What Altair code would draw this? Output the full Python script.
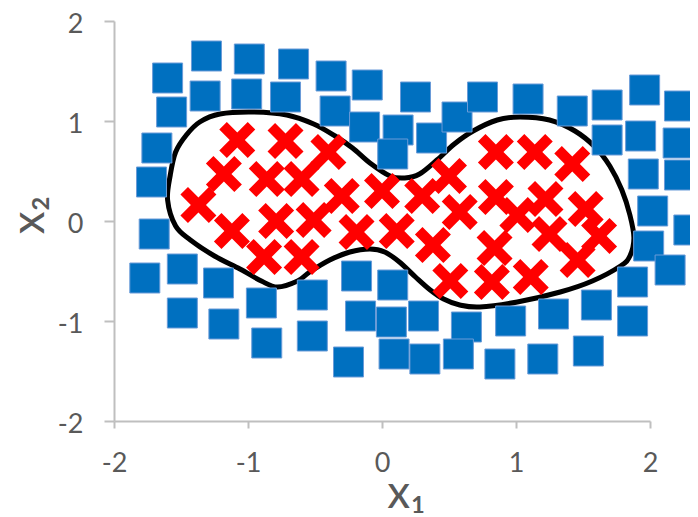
import altair as alt
import pandas as pd

# Blue squares (class outside the boundary)
sq_x = [-1.31, -0.99, -0.66, -0.38, -0.11, -1.60, -1.32, -1.01, -0.72, -1.57,
        -0.35, -0.13, 0.25, 0.12, 0.37, 0.56, 0.75, 1.09, 1.42, 1.68,
        1.96, 2.22, 1.68, 1.93, 2.21, 1.95, 2.22, 2.02, 2.29, 1.99,
        2.15, 1.87, 1.87, 1.60, 1.28, 0.96, 0.63, 1.54, 1.20, 0.88,
        0.57, 0.32, 0.09, -0.25, 0.07, -0.16, -0.19, 0.08, -0.52, -0.52,
        -0.90, -0.86, -1.18, -1.49, -1.77, -1.49, -1.70, -1.72, -1.68, 0.08,
        0.31, -1.22]
sq_y = [1.65, 1.62, 1.57, 1.45, 1.36, 1.43, 1.25, 1.27, 1.24, 1.09,
        1.10, 0.94, 1.24, 0.91, 0.83, 1.04, 1.24, 1.22, 1.10, 1.16,
        1.31, 1.15, 0.81, 0.85, 0.78, 0.47, 0.46, 0.10, -0.09, -0.25,
        -0.49, -0.61, -1.00, -0.84, -0.93, -1.00, -1.06, -1.30, -1.38, -1.43,
        -1.33, -1.38, -1.33, -1.41, -1.01, -0.95, -0.55, -0.64, -0.74, -1.15,
        -0.82, -1.22, -1.03, -0.48, -0.57, -0.92, -0.13, 0.39, 0.73, 0.67,
        -0.95, -0.62]

# Red crosses (class inside the boundary)
cr_x = [-1.08, -0.72, -0.40, -1.18, -0.86, -0.60, -1.37, -0.30, 0.00, 0.30,
        0.50, 0.85, 1.14, 1.42, 0.85, 1.22, 1.52, 0.58, 1.01, 1.25,
        1.62, -0.79, -0.51, -0.19, 0.11, 0.38, -1.12, -0.88, -0.60, 0.84,
        1.46, 1.11, 0.82, 0.51]
cr_y = [0.81, 0.80, 0.69, 0.47, 0.42, 0.42, 0.16, 0.25, 0.30, 0.25,
        0.45, 0.69, 0.69, 0.57, 0.24, 0.22, 0.12, 0.09, 0.06, -0.13,
        -0.15, 0.00, 0.01, -0.11, -0.10, -0.24, -0.10, -0.36, -0.36, -0.27,
        -0.39, -0.56, -0.61, -0.60]

# Decision boundary (closed curve)
bd_x = [-1.60, -1.58, -1.54, -1.46, -1.36, -1.21, -0.96, -0.71, -0.51, -0.35,
        -0.22, -0.09, 0.06, 0.17, 0.28, 0.41, 0.54, 0.68, 0.86, 1.03,
        1.25, 1.44, 1.59, 1.70, 1.79, 1.85, 1.88, 1.85, 1.78, 1.57,
        1.33, 1.01, 0.73, 0.58, 0.46, 0.36, 0.25, 0.13, 0.02, -0.09,
        -0.24, -0.39, -0.54, -0.63, -0.78, -0.90, -1.06, -1.25, -1.43, -1.54]
bd_y = [0.21, 0.46, 0.69, 0.86, 0.99, 1.07, 1.09, 1.06, 0.97, 0.85,
        0.73, 0.58, 0.45, 0.43, 0.47, 0.61, 0.77, 0.90, 1.01, 1.04,
        1.01, 0.90, 0.74, 0.55, 0.31, 0.06, -0.17, -0.35, -0.45, -0.60,
        -0.71, -0.81, -0.86, -0.84, -0.78, -0.69, -0.56, -0.41, -0.31, -0.28,
        -0.31, -0.39, -0.51, -0.60, -0.66, -0.60, -0.48, -0.35, -0.19, -0.05]

ticks = [-2, -1, 0, 1, 2]

squares = pd.DataFrame({"x1": sq_x, "x2": sq_y})
crosses = pd.DataFrame({"x1": cr_x, "x2": cr_y})
boundary = pd.DataFrame({"x1": bd_x, "x2": bd_y, "idx": list(range(len(bd_x)))})

d = 0.42
XPATH = (f"M0,{d} L{1-d},1 L1,{1-d} L{d},0 L1,{-(1-d)} L{1-d},-1 L0,{-d} "
         f"L{-(1-d)},-1 L-1,{-(1-d)} L{-d},0 L-1,{1-d} L{-(1-d)},1 Z")

label_expr = "(datum.value < 0 ? '-' : '') + abs(datum.value)"

xscale = alt.Scale(domain=[-2, 2], nice=False, zero=False)
yscale = alt.Scale(domain=[-2, 2], nice=False, zero=False)

xaxis = alt.Axis(values=ticks, title="x₁", tickSize=7, labelPadding=22,
                 labelFlush=False, labelExpr=label_expr, titleX=292, titleY=86,
                 titleBaseline="alphabetic", titleAlign="center", titleAngle=0)
yaxis = alt.Axis(values=ticks, title="x₂", tickSize=10, labelPadding=21,
                 labelFlush=False, labelOffset=3, labelExpr=label_expr,
                 titleX=-71, titleY=193.5,
                 titleBaseline="alphabetic", titleAlign="center", titleAngle=270)

line = alt.Chart(boundary).mark_line(
    color="black", strokeWidth=5, interpolate="cardinal-closed"
).encode(
    x=alt.X("x1:Q", scale=xscale, axis=xaxis),
    y=alt.Y("x2:Q", scale=yscale, axis=yaxis),
    order=alt.Order("idx:Q"),
)

sq = alt.Chart(squares).mark_square(
    size=900, fill="#0070C0", stroke="#6A9BD8", strokeWidth=1, opacity=1
).encode(
    x=alt.X("x1:Q", scale=xscale),
    y=alt.Y("x2:Q", scale=yscale),
)

cr = alt.Chart(crosses).mark_point(
    shape=XPATH, size=1296, filled=True, fill="#FF0000", color="#FF0000",
    strokeWidth=0, opacity=1
).encode(
    x=alt.X("x1:Q", scale=xscale),
    y=alt.Y("x2:Q", scale=yscale),
)

chart = alt.layer(line, sq, cr).properties(
    width=536, height=400,
    autosize=alt.AutoSizeParams(type="none"),
    padding={"left": 106, "top": 13, "right": 40, "bottom": 96},
    background="white",
).configure_view(stroke=None).configure_axis(
    grid=False,
    domainColor="#BFBFBF", domainWidth=2,
    tickColor="#BFBFBF", tickWidth=2,
    labelFont="Lato", labelFontSize=27, labelColor="#595959",
    titleFont="Lato", titleFontSize=46, titleColor="#595959",
    titleFontWeight="normal",
)

chart.save("out.html", embed_options={"renderer": "svg", "actions": False})
